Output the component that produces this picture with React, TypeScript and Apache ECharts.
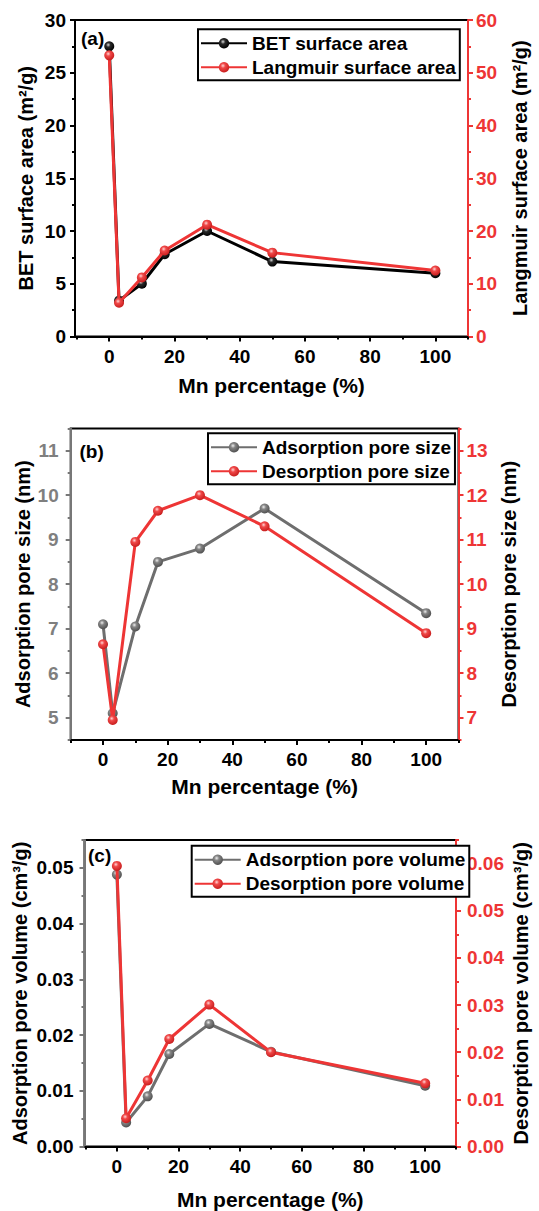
import React, { useEffect, useRef } from "react";
import * as echarts from "echarts";

// ---------------- data ----------------
const mnPercent = [0, 3, 10, 17, 30, 50, 100];

const betArea = [27.5, 3.4, 5.0, 7.8, 10.0, 7.1, 6.0];
const langmuirArea = [53.3, 6.4, 11.2, 16.3, 21.2, 15.9, 12.5];

const adsPoreSize = [7.1, 5.1, 7.05, 8.5, 8.8, 9.7, 7.35];
const desPoreSize = [8.65, 6.95, 10.95, 11.65, 12.0, 11.3, 8.9];

const adsPoreVolume = [0.0488, 0.0043, 0.009, 0.0166, 0.022, 0.017, 0.0109];
const desPoreVolume = [0.0595, 0.006, 0.014, 0.0228, 0.0301, 0.02, 0.0134];

// tick labels
const xTicks = [0, 20, 40, 60, 80, 100];
const xMinorTicks = [-10, 10, 30, 50, 70, 90, 110];

const aLeftTicks = [0, 5, 10, 15, 20, 25, 30];
const aLeftMinor = [2.5, 7.5, 12.5, 17.5, 22.5, 27.5];
const aRightTicks = [0, 10, 20, 30, 40, 50, 60];
const aRightMinor = [5, 15, 25, 35, 45, 55];

const bLeftTicks = [5, 6, 7, 8, 9, 10, 11];
const bLeftMinor = [4.5, 5.5, 6.5, 7.5, 8.5, 9.5, 10.5, 11.5];
const bRightTicks = [7, 8, 9, 10, 11, 12, 13];
const bRightMinor = [6.5, 7.5, 8.5, 9.5, 10.5, 11.5, 12.5, 13.5];

const cLeftTicks = [0, 0.01, 0.02, 0.03, 0.04, 0.05];
const cLeftMinor = [0.005, 0.015, 0.025, 0.035, 0.045, 0.055];
const cRightTicks = [0, 0.01, 0.02, 0.03, 0.04, 0.05, 0.06];
const cRightMinor = [0.005, 0.015, 0.025, 0.035, 0.045, 0.055, 0.065];

// ---------------- styles ----------------
const FONT = '"Liberation Sans", Arial, Helvetica, sans-serif';
const RED = "#ee3535";
const GREY_LINE = "#6e6e6e";
const GREY_AXIS = "#777777";
const GREY_LABEL = "#7f7f7f";

const sphere = (hi: string, mid: string, edge: string) =>
  new echarts.graphic.RadialGradient(0.4, 0.35, 0.65, [
    { offset: 0, color: hi },
    { offset: 0.35, color: mid },
    { offset: 1, color: edge },
  ]);

function xAxes(gi: number, min: number, max: number, nameGap: number) {
  return [
    {
      type: "value",
      gridIndex: gi,
      position: "bottom",
      min,
      max,
      name: "Mn percentage (%)",
      nameLocation: "middle",
      nameGap,
      nameMoveOverlap: false,
      nameTextStyle: { color: "#000", fontSize: 21, fontWeight: "bold", fontFamily: FONT },
      axisLine: { show: true, onZero: false, lineStyle: { color: "#000", width: 2 } },
      axisTick: { show: true, inside: false, length: 5, customValues: xTicks, lineStyle: { color: "#000", width: 2 } },
      axisLabel: {
        show: true,
        customValues: xTicks,
        margin: 10,
        color: "#000",
        fontSize: 19,
        fontWeight: "bold",
        fontFamily: FONT,
      },
      splitLine: { show: false },
    },
    {
      type: "value",
      gridIndex: gi,
      position: "bottom",
      min,
      max,
      axisLine: { show: false, onZero: false },
      axisTick: { show: true, inside: false, length: 3, customValues: xMinorTicks, lineStyle: { color: "#000", width: 2 } },
      axisLabel: { show: false },
      splitLine: { show: false },
    },
  ];
}

function yAxes(
  gi: number,
  side: "left" | "right",
  min: number,
  max: number,
  ticks: number[],
  minor: number[],
  axisColor: string,
  labelColor: string,
  name: string,
  nameGap: number,
  margin: number,
  fmt?: (v: number) => string
) {
  return [
    {
      type: "value",
      gridIndex: gi,
      position: side,
      min,
      max,
      name,
      nameLocation: "middle",
      nameGap,
      nameRotate: 90,
      nameMoveOverlap: false,
      nameTextStyle: { color: "#000", fontSize: 20, fontWeight: "bold", fontFamily: FONT },
      axisLine: { show: true, onZero: false, lineStyle: { color: axisColor, width: 2 } },
      axisTick: { show: true, inside: false, length: 5, customValues: ticks, lineStyle: { color: axisColor, width: 2 } },
      axisLabel: {
        show: true,
        customValues: ticks,
        margin,
        color: labelColor,
        fontSize: 19,
        fontWeight: "bold",
        fontFamily: FONT,
        formatter: fmt ? (v: number) => fmt(v) : undefined,
      },
      splitLine: { show: false },
    },
    {
      type: "value",
      gridIndex: gi,
      position: side,
      min,
      max,
      axisLine: { show: false, onZero: false },
      axisTick: { show: true, inside: false, length: 3, customValues: minor, lineStyle: { color: axisColor, width: 2 } },
      axisLabel: { show: false },
      splitLine: { show: false },
    },
  ];
}

function lineSeries(
  name: string,
  xi: number,
  yi: number,
  values: number[],
  color: string,
  fill: any,
  z: number
) {
  return {
    type: "line",
    name,
    xAxisIndex: xi,
    yAxisIndex: yi,
    data: mnPercent.map((x, i) => [x, values[i]]),
    symbol: "circle",
    symbolSize: 10,
    showSymbol: true,
    lineStyle: { color, width: 3 },
    itemStyle: { color: fill, borderWidth: 0 },
    emphasis: { disabled: true },
    z,
  };
}

function legend(left: number, top: number, data: string[]) {
  return {
    orient: "vertical",
    left,
    top,
    data,
    itemWidth: 46,
    itemHeight: 13,
    itemGap: 4,
    padding: [4, 4, 3, 2],
    borderColor: "#000",
    borderWidth: 2,
    backgroundColor: "#fff",
    selectedMode: false,
    textStyle: { color: "#000", fontSize: 19, fontWeight: "bold", fontFamily: FONT, lineHeight: 20 },
  };
}

export default function App() {
  const ref = useRef<HTMLDivElement>(null);

  useEffect(() => {
    if (!ref.current) return;
    const chart = echarts.init(ref.current, null, { renderer: "svg" });

    const blackBall = sphere("#dcdcdc", "#2a2a2a", "#000000");
    const redBall = sphere("#ffd6d6", "#f04848", "#c81e1e");
    const greyBall = sphere("#eeeeee", "#858585", "#505050");

    const fmt2 = (v: number) => v.toFixed(2);

    const option: any = {
      animation: false,
      backgroundColor: "#fff",
      grid: [
        { left: 75, right: 71, top: 20, height: 316.5, show: true, borderColor: "#000", borderWidth: 2, backgroundColor: "transparent" },
        { left: 70.7, right: 80.5, top: 428.4, height: 311.6, show: true, borderColor: "#000", borderWidth: 2, backgroundColor: "transparent" },
        { left: 84.5, right: 73.2, top: 840, height: 307, show: true, borderColor: "#000", borderWidth: 2, backgroundColor: "transparent" },
      ],
      xAxis: [
        ...xAxes(0, -10.5, 110, 38),
        ...xAxes(1, -10, 110, 36),
        ...xAxes(2, -10.5, 110, 42.5),
      ],
      yAxis: [
        ...yAxes(0, "left", 0, 30, aLeftTicks, aLeftMinor, "#000", "#000", "BET surface area (m²/g)", 39, 9),
        ...yAxes(0, "right", 0, 60, aRightTicks, aRightMinor, RED, RED, "Langmuir surface area (m²/g)", 42, 8),
        ...yAxes(1, "left", 4.5, 11.5, bLeftTicks, bLeftMinor, GREY_AXIS, GREY_LABEL, "Adsorption pore size (nm)", 38, 12),
        ...yAxes(1, "right", 6.5, 13.5, bRightTicks, bRightMinor, RED, RED, "Desorption pore size (nm)", 40, 8),
        ...yAxes(2, "left", 0, 0.055, cLeftTicks, cLeftMinor, GREY_AXIS, "#000", "Adsorption pore volume (cm³/g)", 55, 11, fmt2),
        ...yAxes(2, "right", 0, 0.065, cRightTicks, cRightMinor, RED, RED, "Desorption pore volume (cm³/g)", 55, 11, fmt2),
      ],
      legend: [
        legend(198, 29.3, ["BET surface area", "Langmuir surface area"]),
        legend(208, 433.3, ["Adsorption pore size", "Desorption pore size"]),
        legend(191.7, 845.7, ["Adsorption pore volume", "Desorption pore volume"]),
      ],
      series: [
        lineSeries("BET surface area", 0, 0, betArea, "#000", blackBall, 3),
        lineSeries("Langmuir surface area", 0, 2, langmuirArea, RED, redBall, 4),
        lineSeries("Adsorption pore size", 2, 4, adsPoreSize, GREY_LINE, greyBall, 3),
        lineSeries("Desorption pore size", 2, 6, desPoreSize, RED, redBall, 4),
        lineSeries("Adsorption pore volume", 4, 8, adsPoreVolume, GREY_LINE, greyBall, 3),
        lineSeries("Desorption pore volume", 4, 10, desPoreVolume, RED, redBall, 4),
      ],
      graphic: [
        { type: "text", x: 81, y: 38, style: { text: "(a)", fill: "#000", font: `bold 19px ${FONT}`, verticalAlign: "middle" } },
        { type: "text", x: 79.5, y: 451.7, style: { text: "(b)", fill: "#000", font: `bold 19px ${FONT}`, verticalAlign: "middle" } },
        { type: "text", x: 88, y: 855, style: { text: "(c)", fill: "#000", font: `bold 19px ${FONT}`, verticalAlign: "middle" } },
      ],
    };

    chart.setOption(option);
    return () => {
      chart.dispose();
    };
  }, []);

  return (
    <div
      ref={ref}
      style={{ position: "absolute", left: 0, top: 0, width: 539, height: 1211, background: "#fff" }}
    />
  );
}
